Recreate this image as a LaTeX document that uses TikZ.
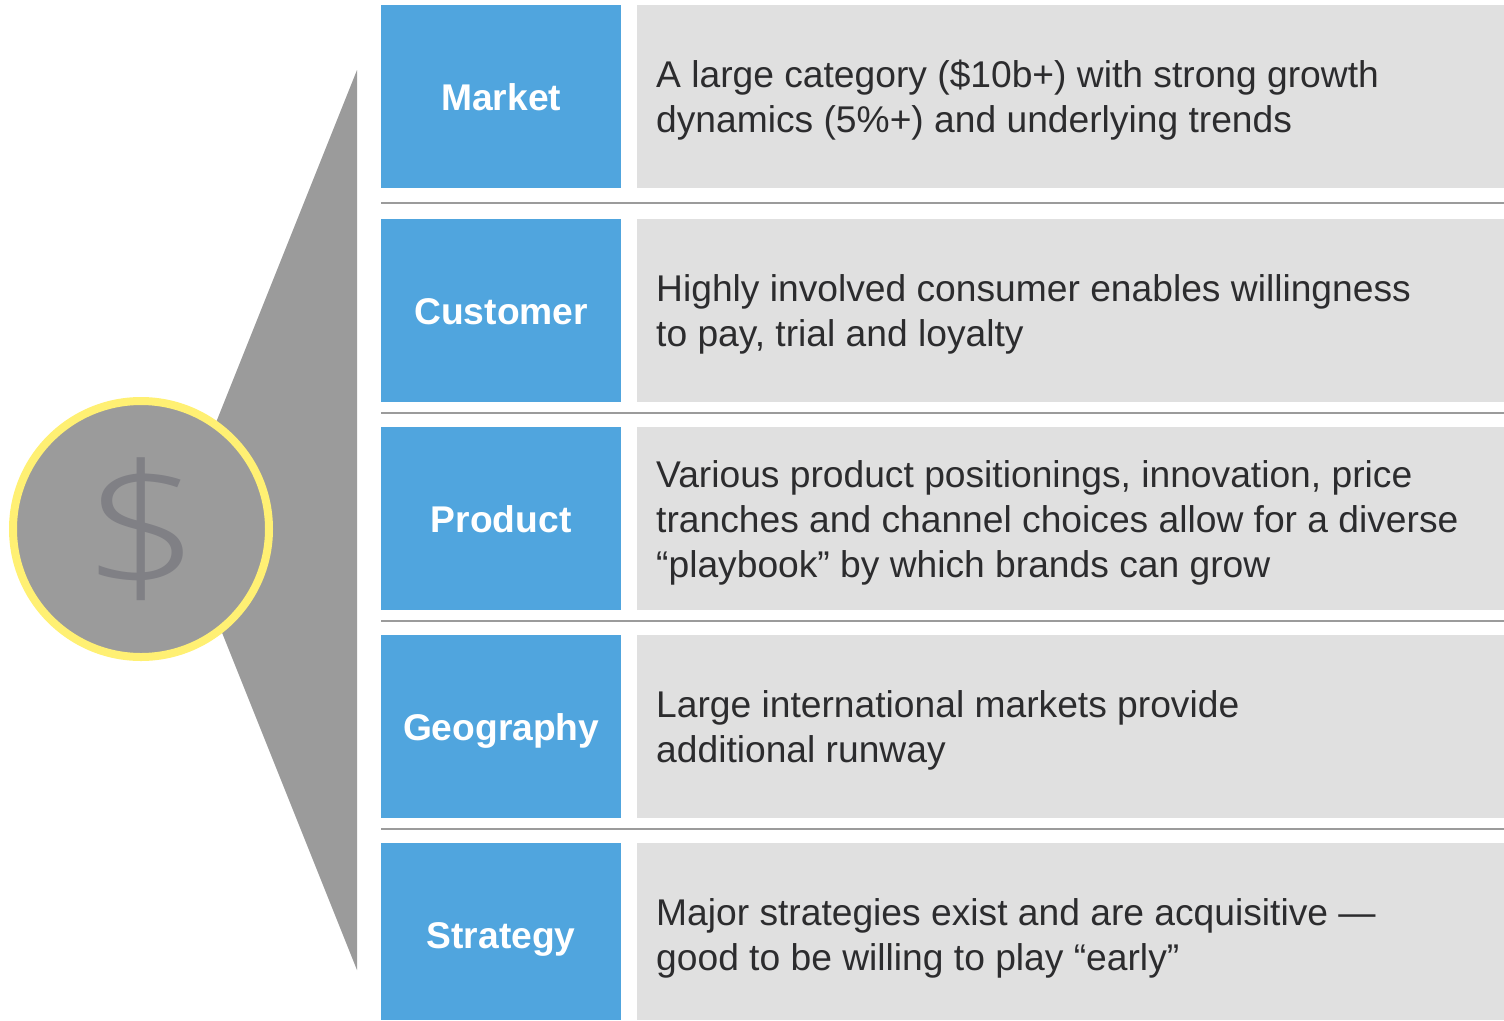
\documentclass[tikz,border=0pt]{standalone}
\usepackage{fontspec}
\setmainfont{Liberation Sans}
\newfontfamily\lightface[FakeStretch=1.19]{Open Sans Light}
\definecolor{blueB}{HTML}{50A5DE}
\definecolor{greyB}{HTML}{E0E0E0}
\definecolor{wedge}{HTML}{9B9B9B}
\definecolor{ring}{HTML}{FFF073}
\definecolor{dollar}{HTML}{808085}
\definecolor{ink}{HTML}{2C2C2E}
\tikzset{
  x=1pt,y=-1pt,
  labelbox/.style={fill=blueB,draw=none,inner sep=0pt,minimum width=240pt,anchor=north west,text=white,text height=32pt,text depth=4pt,font=\fontsize{37.2}{37}\selectfont\bfseries},
  textbox/.style={fill=greyB,draw=none,inner sep=0pt,minimum width=867pt,anchor=north west},
  bodytext/.style={anchor=west,inner sep=0pt,text=ink,align=left,font=\fontsize{37.2}{45}\selectfont},
  rulelinex/.style={draw=wedge,line width=2pt},
}
\begin{document}
\begin{tikzpicture}
\useasboundingbox (0,0) rectangle (1504,1020);
\fill[wedge] (357,70) -- (357,970) -- (177,520) -- cycle;
\node[circle,fill=wedge,draw=ring,line width=8pt,minimum size=256pt,inner sep=0pt] (coin) at (141,529) {};
\node[text=dollar,inner sep=0pt,font=\fontsize{175}{175}\lightface] (sign) at (141.5,529) {\$};

\node[labelbox,minimum height=183pt] (m) at (381,5) {Market};
\node[textbox,minimum height=183pt] (mt) at (637,5) {};
\node[bodytext] at (656,100) {A large category (\$10b+) with strong growth\\dynamics (5\%+) and underlying trends};

\node[labelbox,minimum height=183pt] (c) at (381,219) {Customer};
\node[textbox,minimum height=183pt] (ct) at (637,219) {};
\node[bodytext] at (656,314) {Highly involved consumer enables willingness\\to pay, trial and loyalty};

\node[labelbox,minimum height=183pt] (p) at (381,427) {Product};
\node[textbox,minimum height=183pt] (pt) at (637,427) {};
\node[bodytext] at (656,523) {Various product positionings, innovation, price\\tranches and channel choices allow for a diverse\\“playbook” by which brands can grow};

\node[labelbox,minimum height=183pt] (g) at (381,635) {Geography};
\node[textbox,minimum height=183pt] (gt) at (637,635) {};
\node[bodytext] at (656,730) {Large international markets provide\\additional runway};

\node[labelbox,minimum height=177pt,text height=33pt,text depth=0pt] (s) at (381,843) {Strategy};
\node[textbox,minimum height=177pt] (st) at (637,843) {};
\node[bodytext] at (656,938) {Major strategies exist and are acquisitive —\\good to be willing to play “early”};

\foreach \yy in {203,413,621,829} \draw[rulelinex] (381,\yy) -- (1504,\yy);
\end{tikzpicture}
\end{document}
